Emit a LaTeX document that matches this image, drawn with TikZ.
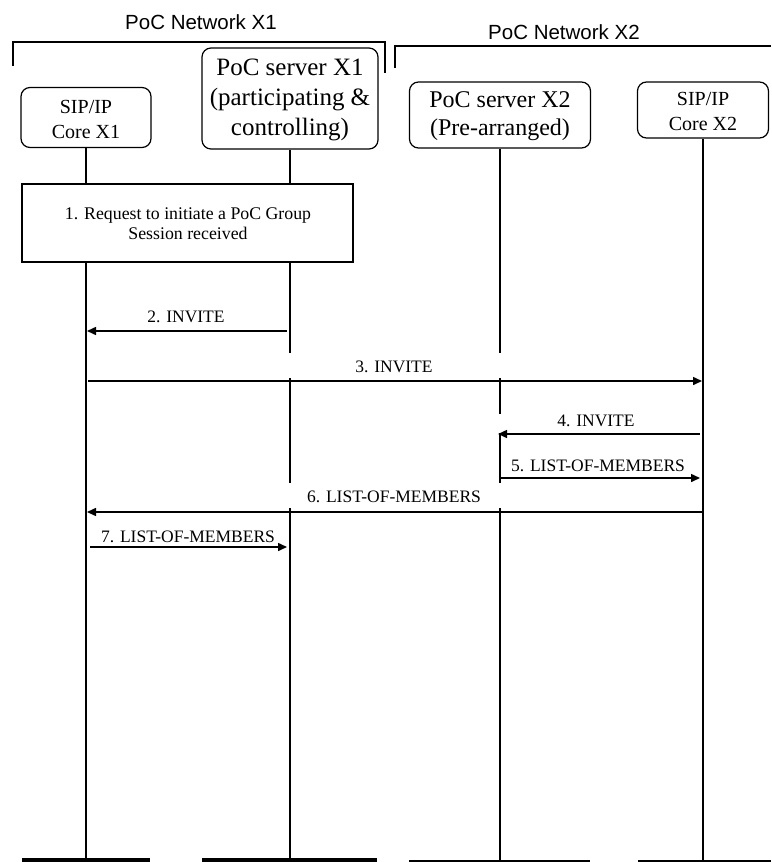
\documentclass[tikz,border=0pt]{standalone}
\usepackage{fontspec}
\setmainfont{Liberation Serif}
\newfontfamily\hdrfont{Liberation Sans}
\usetikzlibrary{arrows.meta}
\begin{document}
\begin{tikzpicture}[x=1pt,y=-1pt,
  ent/.style={draw, rounded corners=9pt, line width=1.2pt, inner sep=0pt},
  etext/.style={align=center, inner sep=0pt},
  life/.style={line width=1.2pt},
  msg/.style={line width=1.5pt, -{Triangle[length=9pt,width=8pt]}},
  lbl/.style={font=\fontsize{17.5}{20}\selectfont, inner sep=0pt},
  hdr/.style={font=\hdrfont\fontsize{20.5}{24}\selectfont, inner sep=0pt},
  bracket/.style={line width=1.2pt},
  thickbar/.style={line width=4pt},
  thinbar/.style={line width=2pt}]
\useasboundingbox (0,0) rectangle (771,862);

% headers and brackets
\node[hdr] (h1) at (201,22) {PoC Network X1};
\node[hdr] (h2) at (564,32) {PoC Network X2};
\coordinate (k1a) at (13,66);
\coordinate (k1b) at (13,42);
\coordinate (k1c) at (385,42);
\coordinate (k1d) at (385,73);
\draw[bracket] (k1a) -- (k1b) -- (k1c) -- (k1d);
\coordinate (k2a) at (395,68);
\coordinate (k2b) at (395,46);
\coordinate (k2c) at (771,46);
\draw[bracket] (k2a) -- (k2b) -- (k2c);

% entities
\node[ent, minimum width=130pt, minimum height=60pt] (sip1) at (86,117.5) {};
\node[etext, font=\fontsize{20}{25}\selectfont] (sip1t) at (86,119.5) {SIP/IP\\Core X1};
\node[ent, minimum width=176pt, minimum height=101pt] (pocA) at (290,98.5) {};
\node[etext, font=\fontsize{25}{30}\selectfont] (pocAt) at (290,99.5) {PoC server X1\\(participating \&\\controlling)};
\node[ent, minimum width=181pt, minimum height=66pt] (pocB) at (500,115) {};
\node[etext, font=\fontsize{24}{28}\selectfont] (pocBt) at (500,116) {PoC server X2\\(Pre-arranged)};
\node[ent, minimum width=131pt, minimum height=56pt] (sip2) at (703,110) {};
\node[etext, font=\fontsize{20}{25}\selectfont] (sip2t) at (703,111) {SIP/IP\\Core X2};

% step 1 box
\node[draw, line width=1.2pt, minimum width=331pt, minimum height=78pt, inner sep=0pt] (s1) at (187.5,223) {};
\node[font=\fontsize{17.8}{20}\selectfont, align=center, inner sep=0pt] (s1t) at (188,224) {1. Request to initiate a PoC Group\\Session received};

% lifeline end and break coordinates
\coordinate (e1) at (86,860);
\coordinate (e2) at (290,860);
\coordinate (e3) at (500,860);
\coordinate (e4) at (703,860);
\coordinate (l2a) at (290,353);
\coordinate (l2b) at (290,378);
\coordinate (l2c) at (290,483);
\coordinate (l2d) at (290,508);
\coordinate (l3a) at (500,353);
\coordinate (l3b) at (500,378);
\coordinate (l3c) at (500,414);
\coordinate (l3d) at (500,433);
\coordinate (l3e) at (500,483);
\coordinate (l3f) at (500,508);

% lifelines
\draw[life] (sip1.south) -- (sip1.south |- s1.north);
\draw[life] (sip1.south |- s1.south) -- (e1);
\draw[life] (pocA.south) -- (pocA.south |- s1.north);
\draw[life] (pocA.south |- s1.south) -- (l2a);
\draw[life] (l2b) -- (l2c);
\draw[life] (l2d) -- (e2);
\draw[life] (pocB.south) -- (l3a);
\draw[life] (l3b) -- (l3c);
\draw[life] (l3d) -- (l3e);
\draw[life] (l3f) -- (e3);
\draw[life] (sip2.south) -- (e4);

% messages
\coordinate (m2a) at (287,331);  \coordinate (m2b) at (87,331);
\coordinate (m3a) at (88,381);   \coordinate (m3b) at (702,381);
\coordinate (m4a) at (700,434);  \coordinate (m4b) at (498,434);
\coordinate (m5a) at (500,478);  \coordinate (m5b) at (700,478);
\coordinate (m6a) at (703,512);  \coordinate (m6b) at (87,512);
\coordinate (m7a) at (90,547);   \coordinate (m7b) at (287,547);
\draw[msg] (m2a) -- (m2b);
\draw[msg] (m3a) -- (m3b);
\draw[msg] (m4a) -- (m4b);
\draw[msg] (m5a) -- (m5b);
\draw[msg] (m6a) -- (m6b);
\draw[msg] (m7a) -- (m7b);
\node[lbl] (t2) at (186,317) {2. INVITE};
\node[lbl] (t3) at (394,367) {3. INVITE};
\node[lbl] (t4) at (596,421) {4. INVITE};
\node[lbl] (t5) at (598,466) {5. LIST-OF-MEMBERS};
\node[lbl] (t6) at (394,497) {6. LIST-OF-MEMBERS};
\node[lbl] (t7) at (188,537) {7. LIST-OF-MEMBERS};

% bottom bars
\draw[thickbar] (22,860) -- (150,860);
\draw[thickbar] (202,860) -- (377,860);
\draw[thinbar] (409,861) -- (590,861);
\draw[thinbar] (638,861) -- (771,861);
\end{tikzpicture}
\end{document}
